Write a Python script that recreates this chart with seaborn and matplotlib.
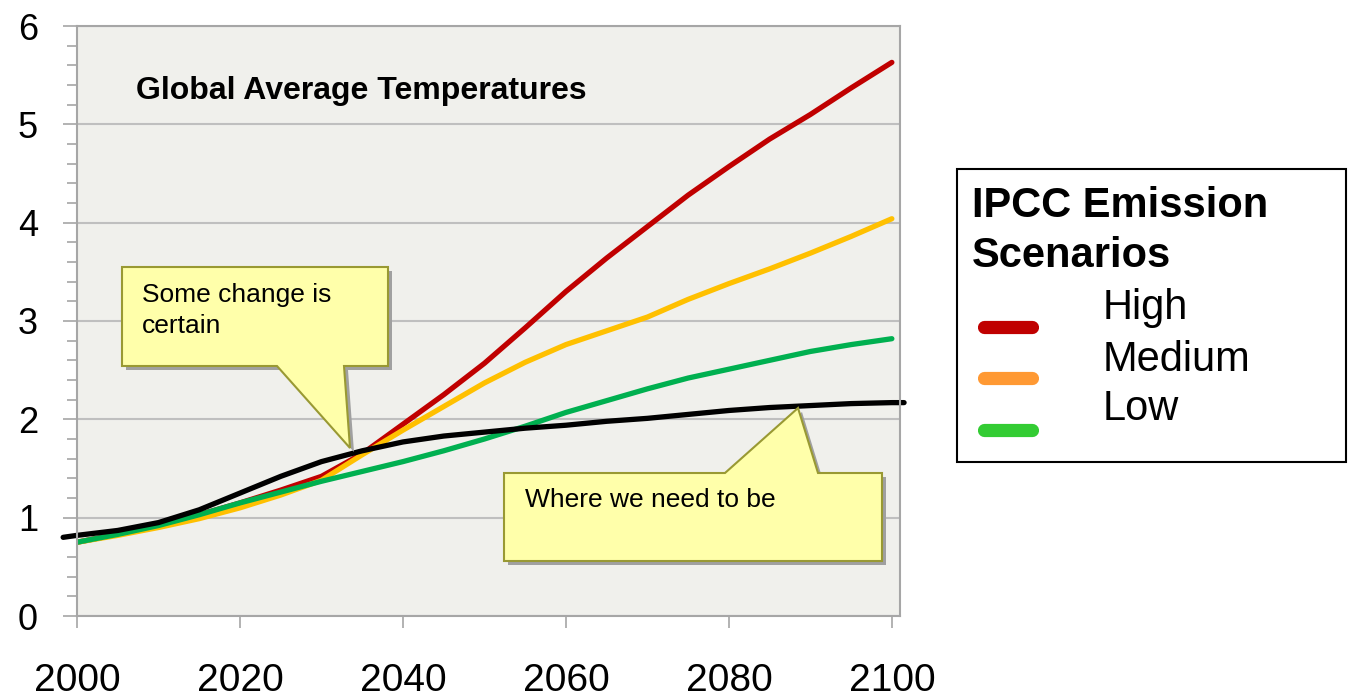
import pandas as pd
import matplotlib.pyplot as plt
import seaborn as sns
from matplotlib.patches import Polygon, Rectangle
from matplotlib.lines import Line2D
from matplotlib.ticker import MultipleLocator


# data
years = list(range(2000, 2101, 5))
high = [0.75, 0.83, 0.93, 1.03, 1.15, 1.28, 1.42, 1.65, 1.95, 2.25, 2.57,
        2.93, 3.30, 3.64, 3.96, 4.28, 4.57, 4.85, 5.10, 5.37, 5.63]
medium = [0.75, 0.82, 0.90, 0.99, 1.10, 1.23, 1.38, 1.64, 1.89, 2.13, 2.37,
          2.58, 2.76, 2.90, 3.04, 3.22, 3.38, 3.53, 3.69, 3.86, 4.04]
low = [0.75, 0.83, 0.92, 1.03, 1.15, 1.26, 1.37, 1.47, 1.57, 1.68, 1.80,
       1.93, 2.07, 2.19, 2.31, 2.42, 2.51, 2.60, 2.69, 2.76, 2.82]

target_years = [1998.3] + years + [2101.5]
target = [0.80, 0.82, 0.87, 0.95, 1.08, 1.25, 1.42, 1.57, 1.68, 1.77, 1.83, 1.87,
          1.91, 1.94, 1.98, 2.01, 2.05, 2.09, 2.12, 2.14, 2.16, 2.17, 2.17]

scenarios = ['High', 'Medium', 'Low']
line_colors = ['#C00000', '#FFC000', '#00B050']
legend_colors = ['#C00000', '#FF9933', '#33CC33']

W, H = 1348, 700


def fpos(x, y):
    # pixel position (top-left origin) -> figure fraction
    return (x / W, 1 - y / H)


sns.set_style('white')
plt.rcParams['font.family'] = ['Liberation Sans', 'DejaVu Sans']
plt.rcParams['text.color'] = 'black'
plt.rcParams['xtick.labelcolor'] = 'black'
plt.rcParams['ytick.labelcolor'] = 'black'

fig = plt.figure(figsize=(W / 100, H / 100), dpi=100)
ax = fig.add_axes([77 / W, 84 / H, 823 / W, 590 / H])
ax.set_facecolor('#F0F0EC')

df = pd.DataFrame({'year': years, 'High': high, 'Medium': medium, 'Low': low})
df = df.melt(id_vars='year', var_name='scenario', value_name='temp')

sns.lineplot(data=df, x='year', y='temp', hue='scenario', hue_order=scenarios,
             palette=line_colors, linewidth=3.8, legend=False, ax=ax)
sns.lineplot(x=target_years, y=target, color='black', linewidth=3.8, ax=ax)
for ln in ax.lines:
    ln.set_solid_capstyle('round')
    ln.set_solid_joinstyle('round')
ax.lines[-1].set_clip_on(False)

ax.set_xlim(2000, 2101)
ax.set_ylim(0, 6)
ax.set_xticks(range(2000, 2101, 20))
ax.set_yticks(range(0, 7))
ax.yaxis.set_minor_locator(MultipleLocator(0.2))
ax.set_xlabel('')
ax.set_ylabel('')

ax.yaxis.grid(True, color='#BFBFBF', linewidth=1.5)
ax.set_axisbelow(True)
for s in ax.spines.values():
    s.set_color('#A6A6A6')
    s.set_linewidth(1.5)

ax.tick_params(axis='x', which='major', bottom=True, direction='out', length=8.6,
               width=1.2, color='#A6A6A6', labelsize=28, pad=25)
ax.tick_params(axis='y', which='major', left=True, direction='out', length=10,
               width=1.2, color='#A6A6A6', labelsize=26, pad=18)
ax.tick_params(axis='y', which='minor', left=True, direction='out', length=7,
               width=1.2, color='#A6A6A6')

fig.text(*fpos(136, 99), 'Global Average Temperatures', fontsize=23,
         fontweight='bold', va='baseline')

# callouts
yellow = '#FFFFAA'
edge = '#999933'
shadow = '#A0A0A0'
callouts = [
    [(122, 267), (388, 267), (388, 366), (344, 366), (350, 448), (277, 366), (122, 366)],
    [(504, 473), (725, 473), (798, 408), (818, 473), (882, 473), (882, 561), (504, 561)],
]
for pts in callouts:
    sh = [fpos(x + 4, y + 4) for x, y in pts]
    fig.add_artist(Polygon(sh, closed=True, transform=fig.transFigure,
                           facecolor=shadow, edgecolor='none', zorder=5))
    fig.add_artist(Polygon([fpos(x, y) for x, y in pts], closed=True,
                           transform=fig.transFigure, facecolor=yellow,
                           edgecolor=edge, linewidth=1.5, zorder=6))

fig.text(*fpos(142, 302), 'Some change is', fontsize=19, va='baseline', zorder=7)
fig.text(*fpos(142, 333), 'certain', fontsize=19, va='baseline', zorder=7)
fig.text(*fpos(525, 507), 'Where we need to be', fontsize=19, va='baseline', zorder=7)

# legend box drawn by hand
x0, y0 = fpos(957, 462)
x1, y1 = fpos(1346, 169)
fig.add_artist(Rectangle((x0, y0), x1 - x0, y1 - y0, transform=fig.transFigure,
                         facecolor='white', edgecolor='black', linewidth=1.5))
fig.text(*fpos(972, 217), 'IPCC Emission', fontsize=30, fontweight='bold', va='baseline')
fig.text(*fpos(972, 267), 'Scenarios', fontsize=30, fontweight='bold', va='baseline')

text_base = [319, 371, 420]
line_y = [327, 378, 430]
for name, c, tb, ly in zip(scenarios, legend_colors, text_base, line_y):
    fig.text(*fpos(1103, tb), name, fontsize=30, va='baseline')
    xa, ya = fpos(984, ly)
    xb, _ = fpos(1032, ly)
    fig.add_artist(Line2D([xa, xb], [ya, ya], transform=fig.transFigure, color=c,
                          linewidth=9.5, solid_capstyle='round'))

fig.savefig('out.png', dpi=100)
